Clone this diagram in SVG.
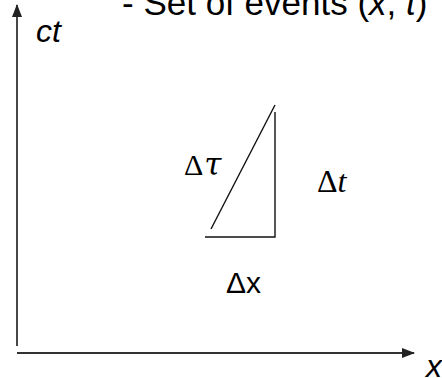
<svg xmlns="http://www.w3.org/2000/svg" width="442" height="378" viewBox="0 0 442 378">
<defs>
<marker id="ah" viewBox="0 0 13 10" refX="12" refY="5" markerWidth="13" markerHeight="10" markerUnits="userSpaceOnUse" orient="auto">
<path d="M0,0 L13,5 L0,10 Z" fill="#222"/>
</marker>
</defs>
<style>
.sans{font-family:"Liberation Sans",Arial,sans-serif;fill:#000}
.serif{font-family:"Liberation Serif","Times New Roman",serif;fill:#000}
.it{font-style:italic}
.axis{stroke:#333;stroke-width:1.8;fill:none}
.tri{stroke:#111;stroke-width:1.4;fill:none}
</style>
<rect width="442" height="378" fill="#fff"/>
<g id="connectors">
<line class="axis" x1="17" y1="346" x2="17" y2="5" marker-end="url(#ah)"/>
<line class="axis" x1="17" y1="353" x2="414" y2="353" marker-end="url(#ah)"/>
</g>
<g id="title"><text class="sans" x="122" y="15" font-size="35">- Set of events (<tspan class="it">x</tspan>, <tspan class="it">t</tspan>)</text></g>
<g id="ct"><text class="sans it" x="36" y="42" font-size="32">ct</text></g>
<g id="xlabel"><text class="sans it" x="426" y="377" font-size="32">x</text></g>
<g id="triangle">
<line class="tri" x1="211" y1="229" x2="275" y2="105"/>
<polyline class="tri" points="275,112 275,237 205,237"/>
</g>
<g id="dtau"><text class="serif" x="184" y="175" font-size="30">Δ<tspan style="font-family:'DejaVu Serif',serif;font-style:italic" font-size="31" dx="1">τ</tspan></text></g>
<g id="dt"><text class="serif" x="317" y="192" font-size="32">Δ<tspan class="it">t</tspan></text></g>
<g id="dx"><text class="sans" x="226" y="293" font-size="30">Δx</text></g>
</svg>
